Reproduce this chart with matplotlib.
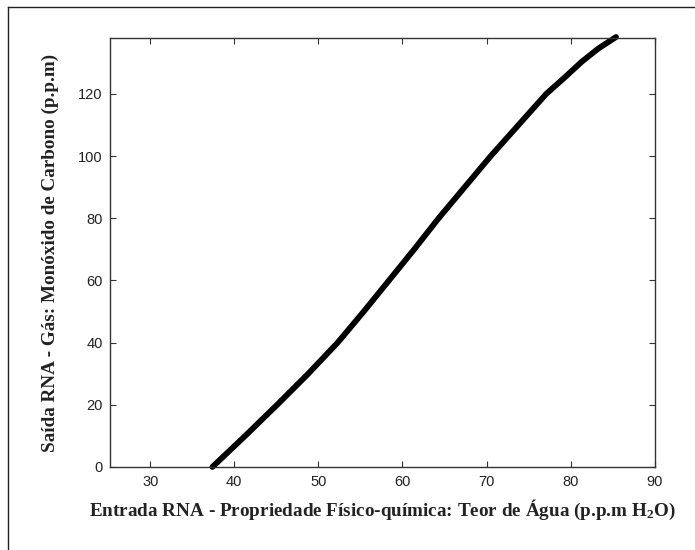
import numpy as np
import matplotlib
matplotlib.use("Agg")
import matplotlib.pyplot as plt

# curve (entrada -> saida)
agua = [37.4, 41.3, 45.1, 48.8, 52.3, 55.4, 58.4, 61.4, 64.3, 67.4, 70.5, 73.8, 77.1, 79.3, 81.3, 83.3, 85.4]
co = [0, 10, 20, 30, 40, 50, 60, 70, 80, 90, 100, 110, 120, 125.3, 130.3, 134.6, 138.3]

xticks = [30, 40, 50, 60, 70, 80, 90]
yticks = [0, 20, 40, 60, 80, 100, 120]

plt.rcParams['mathtext.default'] = 'regular'

fig = plt.figure(figsize=(6.95, 5.5), dpi=100)
ax = fig.add_axes([0.158, 0.151, 0.784, 0.780])

ax.plot(agua, co, color='black', lw=4.2, solid_capstyle='round',
        solid_joinstyle='round', clip_on=False)

ax.set_xlim(25.2, 90)
ax.set_ylim(0, 138)
ax.set_xticks(xticks)
ax.set_yticks(yticks)
ax.tick_params(direction='in', top=True, right=True, length=4, width=0.8,
               labelsize=10.5, colors='#333333', labelcolor='#222222')
ax.tick_params(axis='x', pad=6)
ax.tick_params(axis='y', pad=5)
for lab in ax.get_xticklabels() + ax.get_yticklabels():
    lab.set_family('Liberation Sans')
for s in ax.spines.values():
    s.set_color('#333333')
    s.set_linewidth(1.0)

lbl = dict(family='Liberation Serif', weight='bold', size=13.8, color='#222222')
ax.set_xlabel('Entrada RNA - Propriedade Físico-química: Teor de Água (p.p.m H$_2$O)', labelpad=6, **lbl)
ax.set_ylabel('Saída RNA - Gás: Monóxido de Carbono (p.p.m)', labelpad=14, **lbl)

# frame left/top of the clipped box
fig.add_artist(plt.Line2D([8/695, 8/695], [0, 1 - 7/550], color='#222222', lw=1.0))
fig.add_artist(plt.Line2D([8/695, 1], [1 - 7/550, 1 - 7/550], color='#222222', lw=1.0))

fig.savefig('out.png', dpi=100)
